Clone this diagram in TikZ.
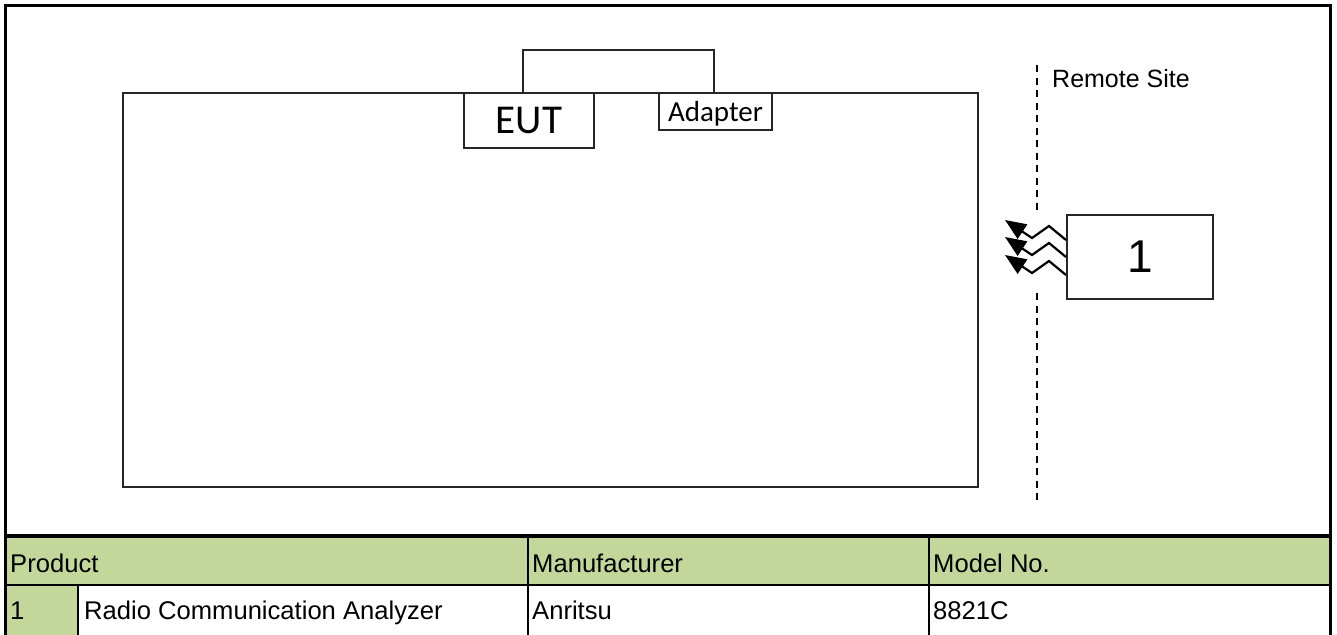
\documentclass[tikz,border=0pt]{standalone}
\usepackage{fontspec}
\setmainfont{Liberation Sans}
\newfontfamily\calib{Carlito}
\usetikzlibrary{arrows.meta,positioning}
\definecolor{hdrgreen}{HTML}{C4D79B}
\tikzset{
    box/.style={
    rectangle,draw=black!85,line width=2pt,inner sep=0pt
    },
    wave/.style={
    line width=2.2pt,-{Triangle[length=21pt,width=17pt]}
    },
    sitedash/.style={
    line width=2pt,dash pattern=on 7pt off 5.5pt
    },
    cell/.style={
    anchor=base west,inner sep=0pt,font=\fontsize{25.6}{30}\selectfont
    },
    thinrule/.style={
    line width=2.2pt
    },
    frame/.style={
    line width=3.4pt
    },
}

\begin{document}
\begin{tikzpicture}[x=1pt,y=-1pt]
   \useasboundingbox (0,0) rectangle (1337,634);

   % test set-up
   \node[box,minimum width=855,minimum height=394] (room) at (550.5,290) {};
   \node[box,fill=white,minimum width=130,minimum height=55,font=\calib\fontsize{41}{41}\selectfont] (eut) at (529,120.5) {EUT};
   \node[box,fill=white,minimum width=113,minimum height=37,text height=19pt,text depth=0pt,font=\calib\fontsize{29}{29}\selectfont] (adapter) at (715.5,111.5) {Adapter};
   \node[box,minimum width=146,minimum height=84,font=\fontsize{46}{46}\selectfont] (ana) at (1140,257) {1};
   \node[anchor=base west,inner sep=0pt,font=\fontsize{25}{30}\selectfont] (remote) at (1052,87) {Remote Site};

   \draw[draw=black!85,line width=2pt] ([xshift=60pt]eut.north west) -- ++(0,-42) -| ([xshift=56pt]adapter.north west);

   % remote site border
   \coordinate (sitetop) at (1036.5,65);
   \coordinate (sitemid1) at (1036.5,210);
   \coordinate (sitemid2) at (1036.5,293);
   \coordinate (sitebot) at (1036.5,502);
   \draw[sitedash] (sitetop) -- (sitemid1);
   \draw[sitedash] (sitemid2) -- (sitebot);

   \foreach \dy in {17,0,-18}
     \draw[wave] ([yshift=\dy pt]ana.west) -- ++(-17,-14) -- ++(-17,12) -- ++(-27,-18);

   % equipment table
   \fill[hdrgreen] (5.5,535) rectangle (1330.5,585);
   \fill[hdrgreen] (5.5,585) rectangle (78,640);
   \draw[frame] (5.5,640) -- (5.5,5.5) -- (1330.5,5.5) -- (1330.5,640);
   \draw[frame] (5.5,536) -- (1330.5,536);
   \draw[thinrule] (5.5,585) -- (1330.5,585);
   \draw[thinrule] (78,585) -- (78,640);
   \draw[thinrule] (528,535) -- (528,640);
   \draw[thinrule] (929,535) -- (929,640);

   \node[cell] (product) at (10,572) {Product};
   \node[cell] (maker) at (532,572) {Manufacturer};
   \node[cell] (model) at (933,572) {Model No.};
   \node[cell] (no1) at (10,619) {1};
   \node[cell] (prod1) at (84,619) {Radio Communication Analyzer};
   \node[cell] (maker1) at (532,619) {Anritsu};
   \node[cell] (model1) at (933,619) {8821C};
\end{tikzpicture}
\end{document}
